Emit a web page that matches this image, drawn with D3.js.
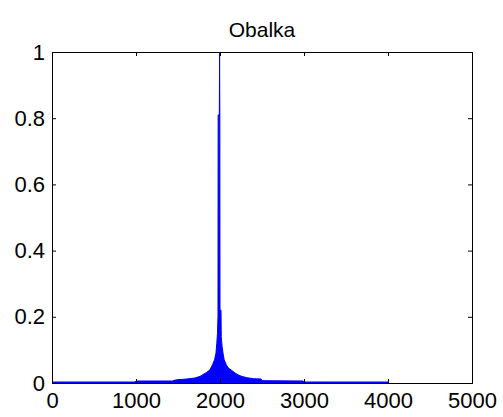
<!DOCTYPE html>
<html>
<head>
<meta charset="utf-8">
<script src="https://cdn.jsdelivr.net/npm/d3@7"></script>
<style>
  body { margin: 0; background: #fff; }
  text { font-family: "Liberation Sans", Arial, sans-serif; }
</style>
</head>
<body>
<div id="chart"></div>
<script>
// Envelope of the spectrum (frequency -> amplitude)
const freq = [0, 990, 1000, 1440, 1450, 1500, 1600, 1700, 1762, 1800, 1840, 1881, 1910, 1935, 1952, 1962, 1970, 1976,
    1978, 1992, 1995, 1998, 2000, 2012, 2015, 2025, 2036, 2050, 2075, 2100, 2140, 2180, 2220, 2260, 2320, 2400,
    2490, 2500, 2990, 3000, 4000];
const amp = [0.003, 0.003, 0.006, 0.006, 0.008, 0.01, 0.012, 0.015, 0.02, 0.026, 0.032, 0.04, 0.055, 0.07, 0.09, 0.12, 0.15, 0.2,
    0.81, 0.81, 1.0, 0.81, 0.22, 0.22, 0.14, 0.11, 0.09, 0.07, 0.055, 0.045, 0.038, 0.03, 0.024, 0.02, 0.016, 0.013,
    0.012, 0.007, 0.006, 0.003, 0.003];

const xTicks = [0, 1000, 2000, 3000, 4000, 5000];
const yTicks = [0, 0.2, 0.4, 0.6, 0.8, 1];
const title = "Obalka";

// Figure size and plot box
const width = 503, height = 417;
const margin = { top: 52, right: 31, bottom: 34, left: 52 };
const innerW = width - margin.left - margin.right;
const innerH = height - margin.top - margin.bottom;

const svg = d3.select("#chart").append("svg")
    .attr("width", width)
    .attr("height", height);

const g = svg.append("g")
    .attr("transform", `translate(${margin.left},${margin.top})`);

// Scales
const x = d3.scaleLinear().domain([0, 5000]).range([0, innerW]);
const y = d3.scaleLinear().domain([0, 1]).range([innerH, 0]);

const data = freq.map((f, i) => ({ f, a: amp[i] }));

// Filled envelope (dense oscillation looks solid) plus its outline
g.append("path")
    .datum(data)
    .attr("fill", "#0000ff")
    .attr("d", d3.area().x(d => x(d.f)).y0(y(0)).y1(d => y(d.a)));

g.append("path")
    .datum(data)
    .attr("fill", "none")
    .attr("stroke", "#0000ff")
    .attr("stroke-width", 1)
    .attr("d", d3.line().x(d => x(d.f)).y(d => y(d.a)));

// Axes, ticks pointing inward, on all four sides
const tickLen = 4;
g.append("g")
    .attr("transform", `translate(0,${innerH})`)
    .call(d3.axisBottom(x).tickValues(xTicks).tickSize(-tickLen).tickPadding(9).tickFormat(d3.format("d")));
g.append("g")
    .call(d3.axisTop(x).tickValues(xTicks).tickSize(-tickLen).tickFormat(""));
g.append("g")
    .call(d3.axisLeft(y).tickValues(yTicks).tickSize(-tickLen).tickPadding(7).tickFormat(d => d === 0 || d === 1 ? d : d.toFixed(1)));
g.append("g")
    .attr("transform", `translate(${innerW},0)`)
    .call(d3.axisRight(y).tickValues(yTicks).tickSize(-tickLen).tickFormat(""));

g.selectAll(".domain").attr("stroke", "#000");
g.selectAll(".tick line").attr("stroke", "#000");
g.selectAll(".tick text")
    .attr("fill", "#000")
    .style("font-size", "22px");

// Title
svg.append("text")
    .attr("x", margin.left + innerW / 2)
    .attr("y", 37)
    .attr("text-anchor", "middle")
    .style("font-size", "21px")
    .text(title);
</script>
</body>
</html>
